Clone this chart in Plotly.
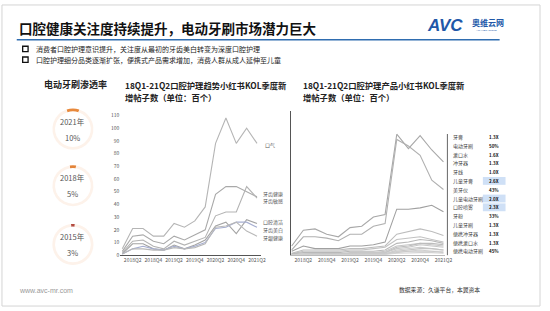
import plotly.graph_objects as go

W, H = 550, 311
FONT = "Noto Sans CJK SC"

quarters = ["2018Q1","2018Q2","2018Q3","2018Q4","2019Q1","2019Q2","2019Q3","2019Q4",
            "2020Q1","2020Q2","2020Q3","2020Q4","2021Q1","2021Q2"]
tick_labels = ["2018Q2","2018Q4","2019Q2","2019Q4","2020Q2","2020Q4","2021Q2"]

# Left chart: trend keywords
left_names = ["口气","牙齿健康","牙齿敏感","口腔清洁","牙齿美白","牙龈健康"]
left_values = [
    [5,21,21,15,15,25,22,27,38,88,108,88,100,88],
    [3,15,16,11,9,15,12,16,20,48,54,54,50,46],
    [2,11,12,7,5,11,8,11,14,31,34,34,54,45],
    [1,9,9,5,4,8,5,8,12,23,26,17,28,25],
    [1,5,7,5,4,7,5,7,10,21,22,26,26,22],
    [1,5,5,4,4,6,5,6,9,22,23,26,19,15],
]
left_colors = ["#b5b5b5","#a9a9a9","#b3b3b3","#a4a4a4","#a6aed0","#b8b8b8"]

# Right chart: products
right_names = ["牙膏","电动牙刷","漱口水","冲牙器","牙线","儿童牙膏","美牙仪","儿童电动牙刷",
               "口腔喷雾","牙粉","儿童牙刷","便携冲牙器","便携漱口水","便携电动牙刷"]
right_growth = ["1.3X","50%","1.6X","1.3X","1.0X","2.6X","43%","2.0X","2.3X","33%",
                "1.3X","1.3X","1.3X","45%"]
right_highlight = [False,False,False,False,False,True,False,True,True,False,False,False,False,False]
right_values = [
    [7,19,20,16,14,21,22,29,31,92,81,91,80,71],
    [4,14,14,13,11,16,16,22,24,88,83,76,57,50],
    [3,7,5,5,5,7,7,8,10,35,35,36,38,33],
    [1.5,4,4,4,4,5,5,6,7,16,18,20,18,15],
    [1,3,3,3,3,4,4,5,6,12,13,14,12,10],
    [1,2,2,2,2,3,3,3,4,9,10,12,11,9],
    [0.5,1,1,1,1,2,2,2,3,7,8,9,8,7],
    [0.5,1,1,1,1,1,1,2,2,6,7,9,9,8],
    [0.5,1,1,1,1,1,2,2,2,5,6,8,7,6],
    [0.3,0.5,0.5,0.5,0.5,1,1,1,1,4,5,6,5,4],
    [0.3,0.5,0.5,1,1,1,1,1,1,3,4,5,5,4],
    [0.2,0.5,0.5,0.5,0.5,0.5,1,1,1,3,3,4,3,3],
    [0.2,0.3,0.3,0.3,0.3,0.5,0.5,0.5,1,2,3,3,3,2],
    [0.1,0.2,0.2,0.2,0.2,0.3,0.3,0.5,0.5,1.5,2,2,2,1.5],
]
right_colors = ["#a8a8a8","#b0b0b0","#a0a0a0","#bdbdbd","#c2c2c2","#b8b8b8","#c6c6c6",
                "#bcbcbc","#c8c8c8","#cccccc","#c4c4c4","#d0d0d0","#cacaca","#d2d2d2"]

# Penetration rate donuts
pen_years = ["2021年","2018年","2015年"]
pen_rates = [10, 5, 3]
pen_colors = ["#e8893c","#e3843a","#b34a3f"]

def px(x): return x / W
def py(y): return 1 - y / H

x_idx = list(range(len(quarters)))
tick_idx = [quarters.index(t) for t in tick_labels]

fig = go.Figure()

for name, vals, col in zip(left_names, left_values, left_colors):
    fig.add_trace(go.Scatter(x=x_idx, y=vals, mode="lines", name=name,
                             line=dict(color=col, width=1.1), xaxis="x", yaxis="y",
                             hoverinfo="skip"))
for name, vals, col in zip(right_names, right_values, right_colors):
    fig.add_trace(go.Scatter(x=x_idx, y=vals, mode="lines", name=name,
                             line=dict(color=col, width=1.1), xaxis="x2", yaxis="y2",
                             hoverinfo="skip"))

# donuts
centers = [(74, 128), (74, 186), (74, 246)]
r = 21
for (cx, cy), rate, col, yr in zip(centers, pen_rates, pen_colors, pen_years):
    fig.add_trace(go.Pie(values=[rate, 100 - rate], marker=dict(colors=[col, "#fdf2ea"]),
                         hole=0.87, sort=False, direction="clockwise",
                         rotation=-rate * 1.8, textinfo="none", hoverinfo="skip",
                         showlegend=False,
                         domain=dict(x=[px(cx - r), px(cx + r)], y=[py(cy + r), py(cy - r)])))

ann = []
shapes = []

def text(x, y, s, size, color="#222", bold=False, xanchor="left", yanchor="middle", family=FONT):
    if bold:
        s = "<b>" + s + "</b>"
    ann.append(dict(x=px(x), y=py(y), xref="paper", yref="paper", text=s, showarrow=False,
                    xanchor=xanchor, yanchor=yanchor,
                    font=dict(size=size, color=color, family=family)))

# slide border
shapes.append(dict(type="rect", xref="paper", yref="paper", x0=px(2), x1=px(548), y0=py(309), y1=py(1),
                   line=dict(color="#d4d4d4", width=1)))
# title
text(17, 25, "口腔健康关注度持续提升，电动牙刷市场潜力巨大", 13.5, "#111", bold=True)
shapes.append(dict(type="line", xref="paper", yref="paper", x0=px(17), x1=px(507), y0=py(36.5), y1=py(36.5),
                   line=dict(color="#2f6db0", width=1.5)))
# logo
ann.append(dict(x=px(452), y=py(22), xref="paper", yref="paper", showarrow=False,
                text="<b><i>AVC</i></b>", xanchor="center", yanchor="middle",
                font=dict(size=17, color="#2158a8", family="Liberation Sans")))
text(477, 19, "奥维云网", 8, "#2158a8", bold=True)
text(481, 27, "ALL VIEW CLOUD", 2.5, "#2158a8", family="Liberation Sans")

# bullets
for yy, s in [(46, "消费者口腔护理意识提升，关注度从最初的牙齿美白转变为深度口腔护理"),
              (57, "口腔护理细分品类逐渐扩张，便携式产品需求增加，消费人群从成人延伸至儿童")]:
    shapes.append(dict(type="rect", xref="paper", yref="paper", x0=px(23), x1=px(28.5),
                       y0=py(yy + 2.8), y1=py(yy - 2.8), line=dict(color="#111", width=1.3)))
    text(34, yy, s, 7, "#222")

# left section
text(77, 82, "电动牙刷渗透率", 9, "#222", bold=True, xanchor="center")
for (cx, cy), rate, yr in zip(centers, pen_rates, pen_years):
    text(cx, cy - 0.5, yr, 7.5, "#555", xanchor="center", yanchor="bottom")
    text(cx, cy + 0.5, f"{rate}%", 7.5, "#555", xanchor="center", yanchor="top")

# chart titles
for x0, s in [(125, "18Q1-21Q2口腔护理趋势小红书KOL季度新"), (305, "18Q1-21Q2口腔护理产品小红书KOL季度新")]:
    text(x0, 83, s, 8.3, "#222", bold=True)
    text(x0, 95, "增帖子数（单位：百个）", 8.3, "#222", bold=True)

# left labels
left_label_y = [144, 194, 202, 223, 231, 239]
for name, ly in zip(left_names, left_label_y):
    text(267 if name == "口气" else 265, ly, name, 5, "#555")

# right legend list
shapes.append(dict(type="line", xref="paper", yref="paper", x0=px(454), x1=px(454), y0=py(257), y1=py(133),
                   line=dict(color="#666", width=1)))
for i, (name, g, hl) in enumerate(zip(right_names, right_growth, right_highlight)):
    ly = 136 + 9 * i
    if hl:
        shapes.append(dict(type="rect", xref="paper", yref="paper", x0=px(490), x1=px(513),
                           y0=py(ly + 4), y1=py(ly - 4), fillcolor="#cfe0f6", line=dict(width=0)))
    text(458, ly, name, 5, "#444")
    text(494, ly, g, 4.5, "#111", bold=True)

# footer
text(17, 293, "www.avc-mr.com", 7, "#999", family="Liberation Sans")
text(403, 292, "数据来源：久谦平台，本翼资本", 5.8, "#333")

fig.update_layout(
    width=W, height=H, margin=dict(l=0, r=0, t=0, b=0),
    paper_bgcolor="white", plot_bgcolor="rgba(0,0,0,0)", showlegend=False,
    annotations=ann, shapes=shapes,
    xaxis=dict(domain=[px(122), px(265)], range=[-0.2, 13.4], tickvals=tick_idx, ticktext=tick_labels,
               showgrid=False, zeroline=False, showline=True, linecolor="#555", linewidth=1,
               ticks="", tickfont=dict(size=5, color="#555", family=FONT), anchor="y"),
    yaxis=dict(domain=[py(257), py(114)], range=[0, 110], dtick=10, showgrid=False, zeroline=False,
               showline=False, ticks="", tickfont=dict(size=5, color="#555", family=FONT), anchor="x"),
    xaxis2=dict(domain=[px(294.8), px(451.2)], range=[-0.1, 13.1], tickvals=tick_idx, ticktext=tick_labels,
                showgrid=False, zeroline=False, showline=True, linecolor="#bbb", linewidth=0.8,
                ticks="", tickfont=dict(size=5, color="#555", family=FONT), anchor="y2"),
    yaxis2=dict(domain=[py(257), py(109)], range=[0, 110], showgrid=False, zeroline=False,
                showline=True, linecolor="#555", linewidth=1, showticklabels=False, ticks="", anchor="x2"),
)

fig.write_html("out.html")
